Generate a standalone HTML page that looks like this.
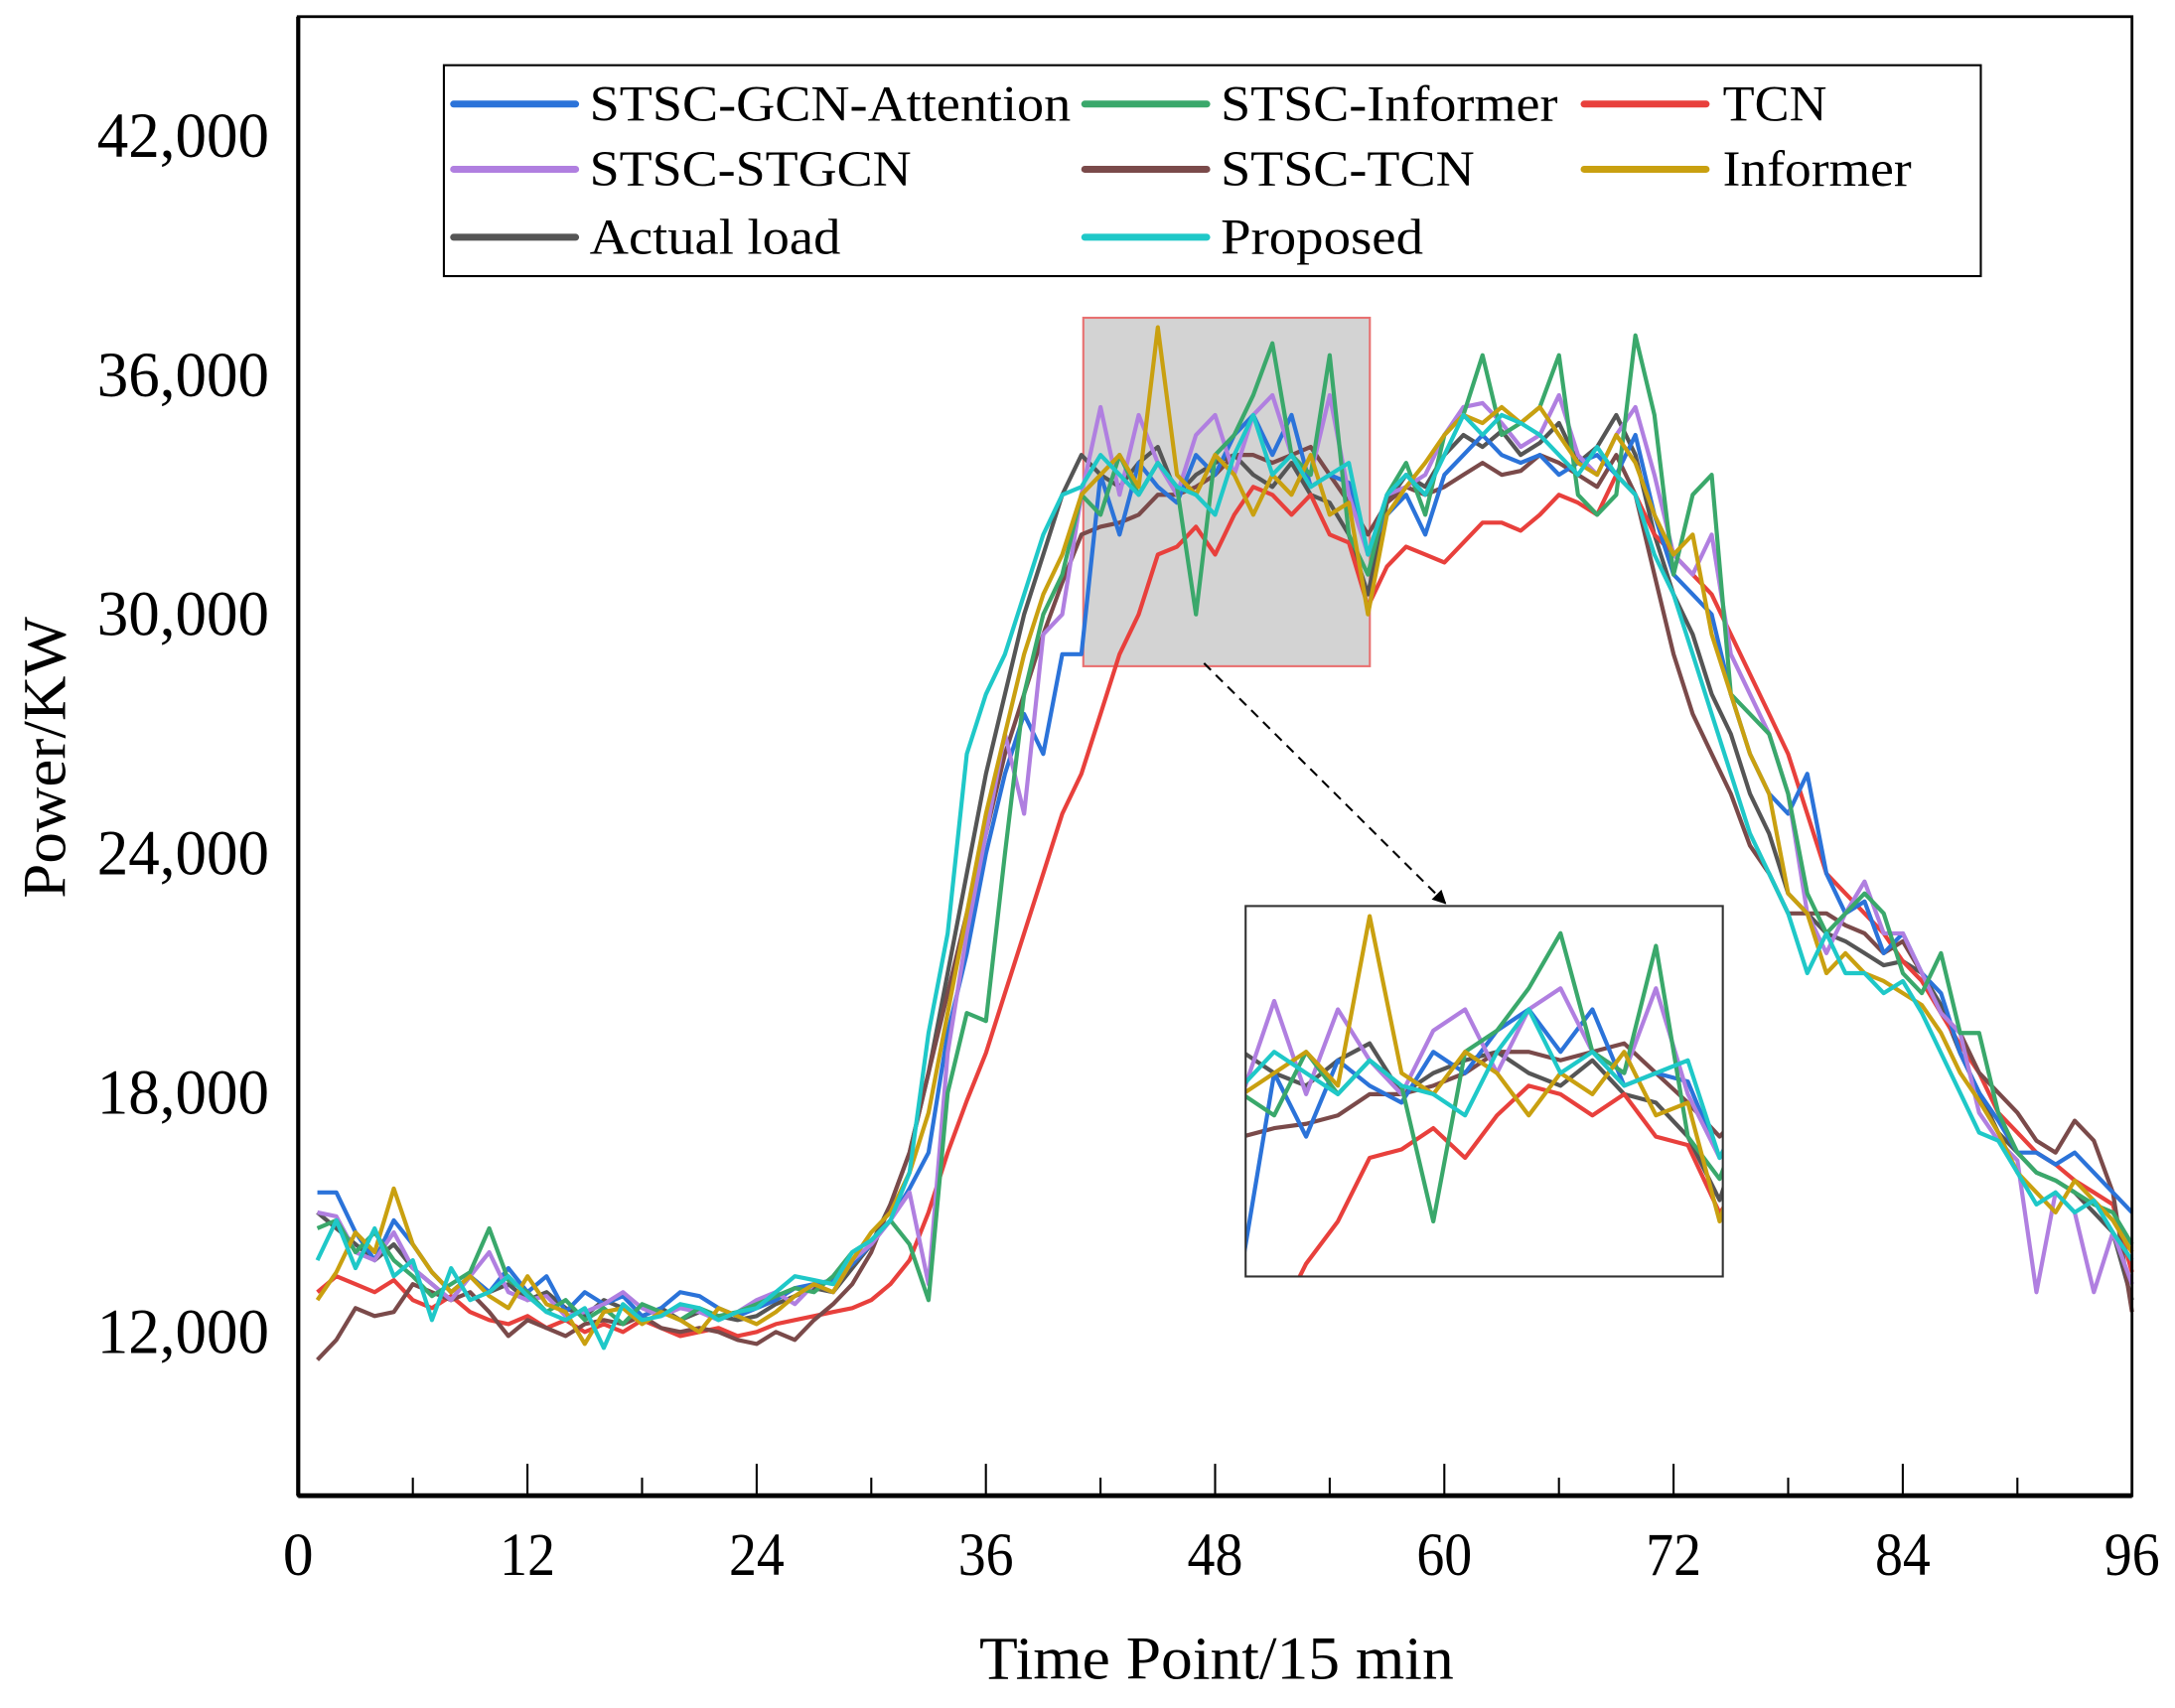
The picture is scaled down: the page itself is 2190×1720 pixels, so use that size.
<!DOCTYPE html>
<html><head><meta charset="utf-8"><style>
html,body{margin:0;padding:0;background:#fff;width:2190px;height:1720px;overflow:hidden;}
svg{display:block;}
text{font-family:"Liberation Serif",serif;fill:#000;}
</style></head><body>
<svg id="chart" width="2190" height="1720" viewBox="0 0 1568 1231" preserveAspectRatio="none" xmlns="http://www.w3.org/2000/svg">
<defs>
<clipPath id="insetClip"><rect x="898" y="653" width="344" height="267"/></clipPath>
<marker id="arrowHead" markerWidth="10" markerHeight="10" refX="9" refY="5" orient="auto" markerUnits="userSpaceOnUse"><path d="M0,0 L10,5 L0,10 Z" fill="#000"/></marker>
</defs>
<rect x="0" y="0" width="1568" height="1231" fill="#fff"/>
<g id="zoomRegion"></g>
<g id="mainLines"></g>
<g id="inset"></g>
<g id="axes"></g>
<g id="legend"></g>
</svg>
<script>
const xTicks = [0,12,24,36,48,60,72,84,96];
const yTicks = [12000,18000,24000,30000,36000,42000];
const yTickLabels = ["12,000","18,000","24,000","30,000","36,000","42,000"];
const seriesNames = ["Actual load","STSC-GCN-Attention","STSC-STGCN","STSC-Informer","Informer","STSC-TCN","TCN","Proposed"];
const actualLoad = [15000,14600,14200,13800,14200,13600,13200,12800,13400,13000,
13200,12800,13000,12600,12400,12800,12600,12400,12600,12300,
12500,12400,12300,12400,12700,12900,13100,13000,13600,14200,
15200,16500,18500,21000,23500,26000,28000,30000,31500,33000,
34000,33500,33200,33800,34200,33000,33500,33800,34000,33500,
33200,33800,33000,32800,32000,30500,32800,33500,33200,34000,
34500,34200,34600,34000,34300,34800,33800,34200,35000,34000,
32000,30500,29500,28000,27000,25500,24500,23000,22500,22000,
21800,21500,21200,21300,21000,20200,19000,18000,17000,16500,
16000,15800,15500,15000,14500,12800];
const gcnAttention = [15500,15500,14500,13800,14800,14200,13500,13000,13400,13000,
13600,13000,13400,12500,13000,12700,12900,12400,12600,13000,
12900,12600,12400,12600,12800,13100,13200,13300,13700,14200,
14800,15600,16500,19500,21500,24000,26000,27500,26500,29000,
29000,33500,32000,33800,33200,32800,34000,33500,34500,35000,
34000,35000,33200,33500,33300,31500,32500,33000,32000,33500,
34000,34500,34000,33800,34000,33500,33800,34000,33500,34500,
32500,31000,30500,30000,28000,26500,25500,25000,26000,23500,
22500,22800,21500,22000,21000,20500,19000,18000,17300,16500,
16500,16200,16500,16000,15500,15000];
const stgcn = [15000,14900,14000,13800,14500,13600,13200,12800,13400,14000,
13000,12800,12900,12400,12500,12700,13000,12600,12400,12600,
12500,12300,12500,12800,13000,12700,13200,13000,13800,14200,
14800,15500,13200,19000,22000,24500,27000,25000,29500,30000,
33000,35200,33000,35000,33800,33000,34500,35000,33500,35000,
35500,34000,33500,35500,33000,31500,33000,33200,33500,34500,
35200,35300,34800,34200,34500,35500,34000,33500,34500,35200,
33500,31500,31000,32000,29000,28000,27000,25500,22500,21500,
22500,23300,22000,22000,21000,20000,19500,17500,16800,16300,
13000,15500,15000,13000,14500,13200];
const stscInformer = [14600,14800,14000,14500,13800,13400,12900,13200,13500,14600,
13300,13000,12500,12800,12300,12600,12200,12700,12500,12300,
12600,12400,12500,12700,12900,13100,13000,13400,14000,14300,
14800,14200,12800,18000,20000,19800,24000,28000,30000,31000,
33000,32500,34000,33000,33800,33200,30000,34000,34500,35500,
36800,34000,33500,36500,32000,31000,33000,33800,32500,34500,
35000,36500,34500,34800,35200,36500,33000,32500,33000,37000,
35000,31000,33000,33500,28000,27500,27000,25500,23000,22000,
22500,23000,22500,21000,20500,21500,19500,19500,17500,16500,
16000,15800,15500,15200,15000,14200];
const informer = [12800,13500,14500,14000,15600,14200,13500,13000,13400,12900,
12600,13400,12700,12500,11700,12500,12600,12200,12500,12300,
12000,12600,12400,12200,12500,12900,13200,13000,13800,14500,
15000,16000,17500,20000,22500,25000,27000,29000,30500,31500,
33000,33500,34000,33200,37200,33500,33000,34000,33500,32500,
33500,33000,34000,32500,32800,30000,32500,33200,33800,34500,
35000,34800,35200,34800,35200,34500,33800,33500,34500,33800,
32500,31500,32000,29500,28000,26500,25500,23000,22500,21000,
21500,21000,20800,20500,20200,19500,18500,17800,17000,16000,
15500,15000,15800,15300,14800,14000];
const stscTcn = [11300,11800,12600,12400,12500,13200,13000,12800,13000,12500,
11900,12300,12100,11900,12200,12300,12200,12400,12100,12000,
12100,12000,11800,11700,12000,11800,12300,12700,13200,14000,
15200,16500,18500,20500,22500,24500,26500,28000,29500,30800,
32000,32200,32300,32500,33000,33000,33200,33500,34000,34000,
33800,34000,34200,33500,32800,32000,32800,33200,33000,33200,
33500,33800,33500,33600,34000,33800,33500,33200,34000,33000,
31000,29000,27500,26500,25500,24200,23500,22500,22500,22500,
22200,22000,21500,21800,21000,20000,19500,18500,18000,17500,
16800,16500,17300,16800,15500,12500];
const tcn = [13000,13400,13200,13000,13300,12800,12600,12900,12500,12300,
12200,12400,12100,12300,12000,12200,12000,12300,12100,11900,
12000,12100,11900,12000,12200,12300,12400,12500,12600,12800,
13200,13800,15000,16500,17800,19000,20500,22000,23500,25000,
26000,27500,29000,30000,31500,31700,32200,31500,32500,33200,
33000,32500,33000,32000,31800,30200,31200,31700,31500,31300,
31800,32300,32300,32100,32500,33000,32800,32500,33500,33000,
32000,31500,31000,30500,29500,28500,27500,26500,25000,23500,
23000,22500,22000,21300,20800,20000,19200,18500,17500,17000,
16500,16200,15800,15500,15200,13500];
const proposed = [13800,14800,13600,14600,13400,13800,12300,13600,12800,13000,
13400,12900,12500,12300,12600,11600,12700,12300,12400,12700,
12600,12300,12500,12600,13000,13400,13300,13200,14000,14300,
14800,16000,19500,22000,26500,28000,29000,30500,32000,33000,
33200,34000,33500,33000,33800,33200,33000,32500,34000,35000,
33500,34000,33200,33500,33800,31500,33000,33500,33000,34000,
35000,34500,35000,34800,34500,34000,33500,34200,33500,33000,
31500,30500,29000,27500,26000,24500,23500,22500,21000,22000,
21000,21000,20500,20800,20000,19000,18000,17000,16800,16000,
15200,15500,15000,15300,14500,13800];
const zoomT = [41.1, 56.1];
const zoomV = [28700, 37440];

const NS = "http://www.w3.org/2000/svg";
const PX0 = 215, PX1 = 1537, PY0 = 12, PY1 = 1078;
const xScale = t => PX0 + t * (PX1 - PX0) / 96;
const yScale = v => 960 - (v - 12000) * (862 / 30000);
const IX0 = 898, IX1 = 1242, IY0 = 653, IY1 = 920;
const ixScale = t => IX0 + (t - zoomT[0]) * (IX1 - IX0) / (zoomT[1] - zoomT[0]);
const iyScale = v => IY1 - (v - zoomV[0]) * (IY1 - IY0) / (zoomV[1] - zoomV[0]);

function mk(tag, attrs, parent) {
  const el = document.createElementNS(NS, tag);
  for (const k in attrs) el.setAttribute(k, attrs[k]);
  parent.appendChild(el);
  return el;
}
const seriesData = [actualLoad, gcnAttention, stgcn, stscInformer, informer, stscTcn, tcn, proposed];
const seriesColors = ["#555555","#2b73d9","#b07fe0","#3aa86b","#c9a010","#7a4a4a","#e8403c","#1fc8c8"];
const seriesKeys = ["actual-load","stsc-gcn-attention","stsc-stgcn","stsc-informer","informer","stsc-tcn","tcn","proposed"];

const zr = document.getElementById('zoomRegion');
const zrect = mk('rect', {x: xScale(zoomT[0]), y: yScale(zoomV[1]), width: xScale(zoomT[1]) - xScale(zoomT[0]), height: yScale(zoomV[0]) - yScale(zoomV[1]), fill: '#d3d3d3', stroke: '#e87070', 'stroke-width': 1.5}, zr);



const ml = document.getElementById('mainLines');
const order = [0,6,5,1,2,3,4,7];
order.forEach(i => {
  const pts = seriesData[i].map((v, j) => xScale(j + 1).toFixed(1) + ',' + yScale(v).toFixed(1)).join(' ');
  const pl = mk('polyline', {points: pts, fill: 'none', stroke: seriesColors[i], 'stroke-width': 3, 'stroke-linejoin': 'round'}, ml);
  
  
});

const ins = document.getElementById('inset');
const ibg = mk('rect', {x: IX0, y: IY0, width: IX1 - IX0, height: IY1 - IY0, fill: '#fff', stroke: 'none'}, ins);


const ig = mk('g', {'clip-path': 'url(#insetClip)'}, ins);
order.forEach(i => {
  const pts = seriesData[i].map((v, j) => ixScale(j + 1).toFixed(1) + ',' + iyScale(v).toFixed(1)).join(' ');
  const pl = mk('polyline', {points: pts, fill: 'none', stroke: seriesColors[i], 'stroke-width': 3, 'stroke-linejoin': 'round'}, ig);
  
  
});
const ibox = mk('rect', {x: IX0, y: IY0, width: IX1 - IX0, height: IY1 - IY0, fill: 'none', stroke: '#333', 'stroke-width': 1.5}, ins);


const arrow = mk('line', {x1: 868, y1: 478, x2: 1042, y2: 651, stroke: '#000', 'stroke-width': 1.5, 'stroke-dasharray': '7,5', 'marker-end': 'url(#arrowHead)'}, ins);



const ax = document.getElementById('axes');
const frame = mk('rect', {x: PX0, y: PY0, width: PX1 - PX0, height: PY1 - PY0, fill: 'none', stroke: '#000', 'stroke-width': 2}, ax);


const xAxisLine = mk('line', {x1: PX0, y1: PY1, x2: PX1, y2: PY1, stroke: '#000', 'stroke-width': 3.5}, ax);


const yAxisLine = mk('line', {x1: PX0, y1: PY0, x2: PX0, y2: PY1, stroke: '#000', 'stroke-width': 3}, ax);


xTicks.forEach((t, k) => {
  const tk = mk('line', {x1: xScale(t), y1: PY1, x2: xScale(t), y2: PY1 - 23, stroke: '#000', 'stroke-width': 1.5}, ax);
  
  
  if (k < xTicks.length - 1) {
    const mt = (t + xTicks[k + 1]) / 2;
    const mn = mk('line', {x1: xScale(mt), y1: PY1, x2: xScale(mt), y2: PY1 - 13, stroke: '#000', 'stroke-width': 1.5}, ax);
    
    
  }
  const lbl = mk('text', {x: xScale(t), y: 1135, 'text-anchor': 'middle', 'font-size': 44}, ax);
  lbl.textContent = String(t);
  if (String(t).length > 1) { lbl.setAttribute('textLength', 40); lbl.setAttribute('lengthAdjust', 'spacingAndGlyphs'); }
  
  
});
yTicks.forEach((v, k) => {
  const lbl = mk('text', {x: 194, y: yScale(v) + 15, 'text-anchor': 'end', 'font-size': 46, textLength: 124, lengthAdjust: 'spacingAndGlyphs'}, ax);
  lbl.textContent = yTickLabels[k];
  
  
});
const xt = mk('text', {x: 877, y: 1210, 'text-anchor': 'middle', 'font-size': 44, textLength: 342, lengthAdjust: 'spacingAndGlyphs'}, ax);
xt.textContent = 'Time Point/15 min';


const yt = mk('text', {x: 0, y: 0, 'text-anchor': 'middle', 'font-size': 44, textLength: 203, lengthAdjust: 'spacingAndGlyphs', transform: 'translate(47,546) rotate(-90)'}, ax);
yt.textContent = 'Power/KW';



const lg = document.getElementById('legend');
const lbox = mk('rect', {x: 320, y: 47, width: 1108, height: 152, fill: '#fff', stroke: '#000', 'stroke-width': 1.5}, lg);


const legendItems = [
  [1, 327, 75, 347], [3, 782, 75, 243], [6, 1142, 75, 75],
  [2, 327, 122, 232], [5, 782, 122, 183], [4, 1142, 122, 136],
  [0, 327, 171, 181], [7, 782, 171, 146]
];
legendItems.forEach(it => {
  const i = it[0];
  const g = mk('g', {}, lg);
  
  
  const sw = mk('line', {x1: it[1], y1: it[2], x2: it[1] + 88, y2: it[2], stroke: seriesColors[i], 'stroke-width': 5, 'stroke-linecap': 'round'}, g);
  
  
  const tx = mk('text', {x: it[1] + (it[1] === 1142 ? 100 : 98), y: it[2] + 12, 'font-size': 36, textLength: it[3], lengthAdjust: 'spacingAndGlyphs'}, g);
  tx.textContent = seriesNames[i];
  
  
});
</script>
</body></html>
